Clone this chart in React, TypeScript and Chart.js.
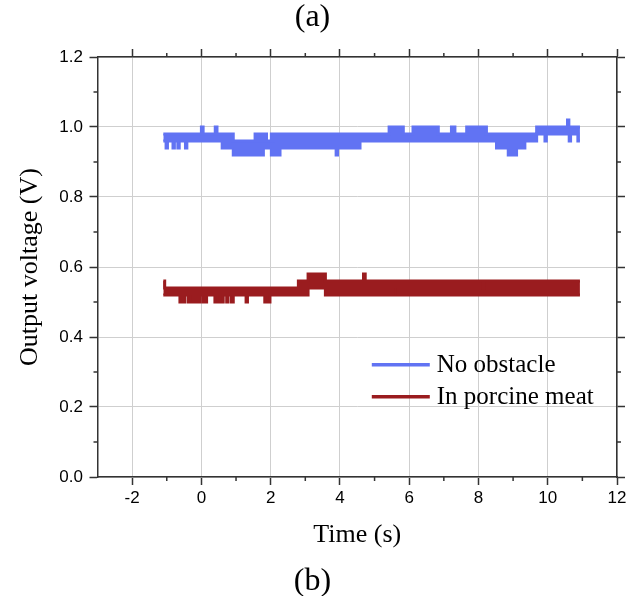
import React, { useEffect, useRef } from "react";
import { Chart, registerables } from "chart.js";

Chart.register(...registerables);

const BLUE = "#6173F3";
const RED = "#9A1C1F";

// Axis ticks
const xTicks = [-2, 0, 2, 4, 6, 8, 10, 12];
const xMinorTicks = [-1, 1, 3, 5, 7, 9, 11];
const yTicks = [0, 0.2, 0.4, 0.6, 0.8, 1.0, 1.2];
const yMinorTicks = [0.1, 0.3, 0.5, 0.7, 0.9, 1.1];

const seriesLabels = ["No obstacle", "In porcine meat"];

// "No obstacle" signal band: upper / lower envelope, each value holds from its time to the next time
const blueTime = [
  -1.1, -1.02, -0.98, -0.82, -0.78, -0.68, -0.64, -0.46, -0.42, 0.0, 0.05, 0.4, 0.45, 0.6, 0.92,
  1.55, 1.58, 1.65, 1.68, 1.76, 1.79, 1.85, 1.88, 2.02, 2.05, 2.11, 2.27, 3.89, 3.93, 4.58, 5.42,
  5.83, 6.11, 6.84, 7.22, 7.32, 7.66, 8.23, 8.52, 8.86, 9.1, 9.34, 9.68, 9.92, 9.96, 10.57, 10.61,
  10.62, 10.66, 10.87, 10.93,
];
const blueHigh = [
  0.98, 0.98, 0.98, 0.98, 0.98, 0.98, 0.98, 0.98, 0.98, 1.0, 0.98, 1.0, 0.98, 0.98, 0.96,
  0.98, 0.96, 0.98, 0.96, 0.98, 0.96, 0.98, 0.96, 0.98, 0.96, 0.98, 0.98, 0.98, 0.98, 0.98, 1.0,
  0.98, 1.0, 0.98, 1.0, 0.98, 1.0, 0.98, 0.98, 0.98, 0.98, 0.98, 1.0, 1.0, 1.0, 1.02, 1.0,
  1.0, 1.0, 1.0, 1.0,
];
const blueLow = [
  0.96, 0.94, 0.96, 0.94, 0.96, 0.94, 0.96, 0.94, 0.96, 0.96, 0.96, 0.96, 0.96, 0.94, 0.92,
  0.92, 0.92, 0.92, 0.92, 0.92, 0.94, 0.94, 0.94, 0.92, 0.92, 0.92, 0.94, 0.92, 0.94, 0.96, 0.96,
  0.96, 0.96, 0.96, 0.96, 0.96, 0.96, 0.96, 0.94, 0.92, 0.94, 0.96, 0.98, 0.96, 0.98, 0.98, 0.98,
  0.96, 0.98, 0.96, 0.96,
];

// "In porcine meat" signal band
const redTime = [
  -1.1, -1.06, -0.62, -0.48, -0.38, -0.34, -0.28, -0.04, 0.05, 0.15, 0.39, 0.44, 0.49, 0.53, 0.58,
  0.63, 0.73, 0.77, 0.87, 0.92, 1.29, 1.33, 1.83, 1.87, 1.93, 1.98, 2.8, 3.08, 3.58, 4.68, 4.73,
  5.58, 5.62, 8.12, 8.16, 10.93,
];
const redHigh = [
  0.56, 0.54, 0.54, 0.54, 0.54, 0.54, 0.54, 0.54, 0.54, 0.54, 0.54, 0.54, 0.54, 0.54, 0.54,
  0.54, 0.54, 0.54, 0.54, 0.54, 0.54, 0.54, 0.54, 0.54, 0.54, 0.54, 0.56, 0.58, 0.56, 0.58, 0.56,
  0.56, 0.56, 0.54, 0.56, 0.56,
];
const redLow = [
  0.52, 0.52, 0.5, 0.52, 0.5, 0.52, 0.5, 0.52, 0.5, 0.52, 0.5, 0.52, 0.5, 0.52, 0.5,
  0.52, 0.5, 0.52, 0.5, 0.52, 0.5, 0.52, 0.5, 0.52, 0.5, 0.52, 0.52, 0.54, 0.52, 0.52, 0.52,
  0.54, 0.52, 0.52, 0.52, 0.52,
];

const AXIS = "#333333";
const GRID = "#cfcfcf";
const SERIF = "'Liberation Serif', 'Times New Roman', serif";
const SANS = "'Liberation Sans', Arial, sans-serif";

// Turn (time, value) breakpoints into a step path: value i holds until time i+1
function stepPts(time: number[], vals: number[]) {
  const out: { x: number; y: number }[] = [];
  for (let i = 0; i < time.length; i++) {
    if (i > 0) out.push({ x: time[i], y: vals[i - 1] });
    out.push({ x: time[i], y: vals[i] });
  }
  return out;
}

const minorTickPlugin = {
  id: "minorTicks",
  afterDraw(chart: any) {
    const { ctx, chartArea: a, scales } = chart;
    const len = 4;
    ctx.save();
    ctx.strokeStyle = AXIS;
    ctx.lineWidth = 1.5;
    ctx.beginPath();
    xMinorTicks.forEach((v) => {
      const px = scales.x.getPixelForValue(v);
      ctx.moveTo(px, a.bottom);
      ctx.lineTo(px, a.bottom + len);
      ctx.moveTo(px, a.top);
      ctx.lineTo(px, a.top - len);
    });
    yMinorTicks.forEach((v) => {
      const py = scales.y.getPixelForValue(v);
      ctx.moveTo(a.left, py);
      ctx.lineTo(a.left - len, py);
      ctx.moveTo(a.right, py);
      ctx.lineTo(a.right + len, py);
    });
    ctx.stroke();
    ctx.restore();
  },
};

const legendPlugin = {
  id: "insideLegend",
  afterDraw(chart: any) {
    const { ctx, chartArea: a } = chart;
    const x0 = a.left + (a.right - a.left) * 0.528;
    let y = a.top + (a.bottom - a.top) * 0.733;
    ctx.save();
    ctx.font = `25px ${SERIF}`;
    ctx.textBaseline = "middle";
    ctx.textAlign = "left";
    chart.data.datasets.forEach((ds: any) => {
      if (!ds.label) return;
      ctx.strokeStyle = ds.borderColor;
      ctx.lineWidth = 3.5;
      ctx.beginPath();
      ctx.moveTo(x0, y);
      ctx.lineTo(x0 + 58, y);
      ctx.stroke();
      ctx.fillStyle = "#000";
      ctx.fillText(ds.label, x0 + 65, y + 1);
      y += 32;
    });
    ctx.restore();
  },
};

export default function App() {
  const ref = useRef<HTMLCanvasElement | null>(null);

  useEffect(() => {
    if (!ref.current) return;
    const lineBase = {
      borderWidth: 3,
      pointRadius: 0,
      pointHoverRadius: 0,
      tension: 0,
      borderJoinStyle: "miter" as const,
    };
    const chart = new Chart(ref.current, {
      type: "line",
      data: {
        datasets: [
          {
            ...lineBase,
            label: seriesLabels[0],
            data: stepPts(blueTime, blueHigh),
            borderColor: BLUE,
            backgroundColor: BLUE,
            fill: "+1",
          },
          {
            ...lineBase,
            label: "",
            data: stepPts(blueTime, blueLow),
            borderColor: BLUE,
            backgroundColor: BLUE,
            fill: false,
          },
          {
            ...lineBase,
            label: seriesLabels[1],
            data: stepPts(redTime, redHigh),
            borderColor: RED,
            backgroundColor: RED,
            fill: "+1",
          },
          {
            ...lineBase,
            label: "",
            data: stepPts(redTime, redLow),
            borderColor: RED,
            backgroundColor: RED,
            fill: false,
          },
        ],
      },
      options: {
        animation: false,
        responsive: false,
        devicePixelRatio: 1,
        parsing: false,
        events: [],
        layout: { padding: { left: 0, right: 18, top: 0, bottom: 0 } },
        plugins: {
          legend: { display: false },
          tooltip: { enabled: false },
          title: {
            display: true,
            text: "(a)",
            color: "#000",
            font: { family: SERIF, size: 32, weight: "normal", lineHeight: 0.9 },
            padding: { top: 3.6, bottom: 16.6 },
          },
          subtitle: {
            display: true,
            position: "bottom",
            text: "(b)",
            color: "#000",
            font: { family: SERIF, size: 32, weight: "normal", lineHeight: 0.9 },
            padding: { top: 0, bottom: 0 },
          },
        },
        scales: {
          x: {
            type: "linear",
            position: "bottom",
            min: -3,
            max: 12,
            afterBuildTicks: (s: any) => {
              s.ticks = xTicks.map((v) => ({ value: v }));
            },
            afterFit: (s: any) => {
              s.height = 90.2;
            },
            ticks: {
              padding: 3,
              color: "#000",
              font: { family: SANS, size: 17 },
              maxRotation: 0,
              autoSkip: false,
              callback: (v: any) => String(v),
            },
            grid: {
              color: GRID,
              lineWidth: 1,
              drawTicks: true,
              tickLength: 8,
              tickColor: AXIS,
              tickWidth: 1.5,
            },
            border: { display: true, color: AXIS, width: 1.5 },
            title: {
              display: true,
              text: "Time (s)",
              color: "#000",
              font: { family: SERIF, size: 26 },
              padding: { top: 0, bottom: 16.1 },
            },
          },
          x2: {
            type: "linear",
            position: "top",
            min: -3,
            max: 12,
            afterBuildTicks: (s: any) => {
              s.ticks = xTicks.map((v) => ({ value: v }));
            },
            afterFit: (s: any) => {
              s.height = 8;
            },
            ticks: { display: false },
            grid: {
              drawOnChartArea: false,
              drawTicks: true,
              tickLength: 8,
              tickColor: AXIS,
              tickWidth: 1.5,
            },
            border: { display: true, color: AXIS, width: 1.5 },
          },
          y: {
            type: "linear",
            position: "left",
            min: 0,
            max: 1.2,
            afterBuildTicks: (s: any) => {
              s.ticks = yTicks.map((v) => ({ value: v }));
            },
            afterFit: (s: any) => {
              s.width = 97.5;
            },
            ticks: {
              padding: 6.5,
              color: "#000",
              font: { family: SANS, size: 17 },
              callback: (v: any) => Number(v).toFixed(1),
            },
            grid: {
              color: GRID,
              lineWidth: 1,
              drawTicks: true,
              tickLength: 8,
              tickColor: AXIS,
              tickWidth: 1.5,
            },
            border: { display: true, color: AXIS, width: 1.5 },
            title: {
              display: true,
              text: "Output voltage (V)",
              color: "#000",
              font: { family: SERIF, size: 26 },
              padding: { top: 14.4, bottom: 0 },
            },
          },
          y2: {
            type: "linear",
            position: "right",
            min: 0,
            max: 1.2,
            afterBuildTicks: (s: any) => {
              s.ticks = yTicks.map((v) => ({ value: v }));
            },
            afterFit: (s: any) => {
              s.width = 8;
            },
            ticks: { display: false },
            grid: {
              drawOnChartArea: false,
              drawTicks: true,
              tickLength: 8,
              tickColor: AXIS,
              tickWidth: 1.5,
            },
            border: { display: true, color: AXIS, width: 1.5 },
          },
        },
      } as any,
      plugins: [minorTickPlugin, legendPlugin],
    });
    return () => chart.destroy();
  }, []);

  return (
    <div style={{ position: "absolute", left: 0, top: 0, width: 643, height: 596, background: "#fff" }}>
      <canvas ref={ref} width={643} height={596} style={{ display: "block", width: 643, height: 596 }} />
    </div>
  );
}
